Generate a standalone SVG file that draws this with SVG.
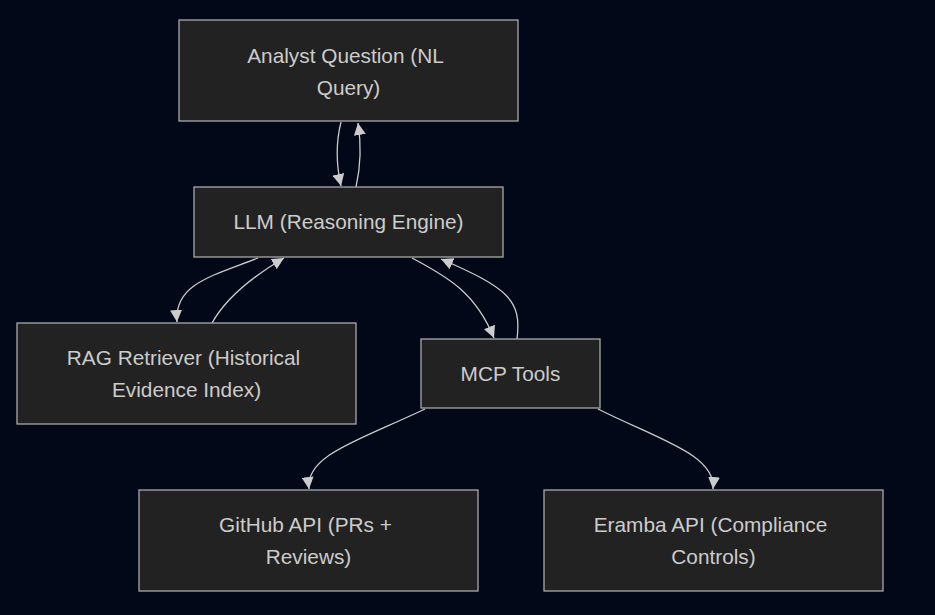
<svg xmlns="http://www.w3.org/2000/svg" width="935" height="615" viewBox="0 0 935 615">
<style>
.node rect{fill:#222222;stroke:#aaaaaa;stroke-width:1.3}
.node text{font-family:"Liberation Sans",Arial,sans-serif;font-size:20.8px;fill:#cccccc;text-anchor:middle;dominant-baseline:central}
.edges path{fill:none;stroke:#cccccc;stroke-width:1.3}
</style>
<defs>
<marker id="arr" markerUnits="userSpaceOnUse" markerWidth="12" markerHeight="12" viewBox="0 0 10 10" refX="10" refY="5" orient="auto">
<path d="M0,0 L10,5 L0,10 z" fill="#cccccc"/>
</marker>
</defs>
<rect width="935" height="615" fill="#020817"/>
<g id="edges" class="edges">
<path d="M341,122 C336,142 336,164 341,186" marker-end="url(#arr)"/>
<path d="M356,187 C361,165 361,142 358,123" marker-end="url(#arr)"/>
<path d="M258,258 C212,276 174,284 177,322" marker-end="url(#arr)"/>
<path d="M212,323 C226,298 250,278 284,258" marker-end="url(#arr)"/>
<path d="M412,258 C450,278 476,294 494,338" marker-end="url(#arr)"/>
<path d="M517,339 C522,300 508,288 441,259" marker-end="url(#arr)"/>
<path d="M425,409 C360,440 305,455 309,489" marker-end="url(#arr)"/>
<path d="M598,409 C660,440 716,455 713,489" marker-end="url(#arr)"/>
</g>
<g id="analyst" class="node"><rect x="179" y="20" width="339" height="101"/><text x="345.5" y="55.5">Analyst Question (NL</text><text x="348.5" y="87.5">Query)</text></g>
<g id="llm" class="node"><rect x="194" y="187" width="309" height="70"/><text x="348.5" y="221.5">LLM (Reasoning Engine)</text></g>
<g id="rag" class="node"><rect x="17" y="323" width="339" height="101"/><text x="183.5" y="357.5">RAG Retriever (Historical</text><text x="186.5" y="389.5">Evidence Index)</text></g>
<g id="mcp" class="node"><rect x="421" y="339" width="179" height="69"/><text x="510.5" y="373.5">MCP Tools</text></g>
<g id="github" class="node"><rect x="139" y="490" width="339" height="101"/><text x="305.5" y="524.5">GitHub API (PRs +</text><text x="308.5" y="556.5">Reviews)</text></g>
<g id="eramba" class="node"><rect x="544" y="490" width="339" height="101"/><text x="710.5" y="524.5">Eramba API (Compliance</text><text x="713.5" y="556.5">Controls)</text></g>
</svg>
